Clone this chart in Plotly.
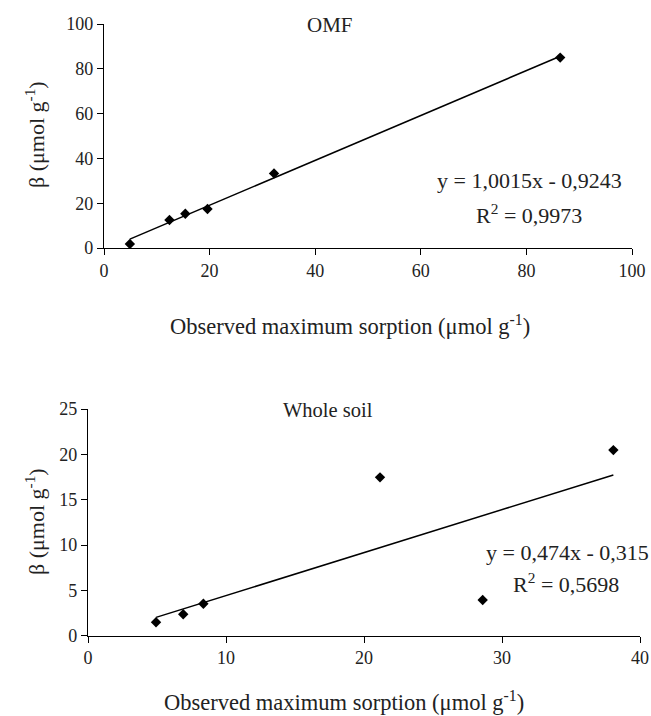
import plotly.graph_objects as go

# OMF data
omf_x = [4.9, 12.4, 15.4, 19.6, 32.2, 86.4]
omf_y = [1.8, 12.5, 15.3, 17.4, 33.3, 85.0]
omf_slope, omf_int = 1.0015, -0.9243

# Whole soil data
ws_x = [4.93, 6.9, 8.36, 21.16, 28.6, 38.07]
ws_y = [1.48, 2.36, 3.53, 17.46, 3.94, 20.47]
ws_slope, ws_int = 0.474, -0.315

W, H = 651, 716
FONT = "Liberation Serif, Times New Roman, serif"

fig = go.Figure()

fig.add_trace(go.Scatter(x=omf_x, y=omf_y, mode="markers",
                         marker=dict(symbol="diamond", size=8, color="black"),
                         xaxis="x", yaxis="y", showlegend=False))
lx = [min(omf_x), max(omf_x)]
fig.add_trace(go.Scatter(x=lx, y=[omf_slope * v + omf_int for v in lx], mode="lines",
                         line=dict(color="black", width=1.5),
                         xaxis="x", yaxis="y", showlegend=False))
fig.add_trace(go.Scatter(x=ws_x, y=ws_y, mode="markers",
                         marker=dict(symbol="diamond", size=8, color="black"),
                         xaxis="x2", yaxis="y2", showlegend=False))
lx2 = [min(ws_x), max(ws_x)]
fig.add_trace(go.Scatter(x=lx2, y=[ws_slope * v + ws_int for v in lx2], mode="lines",
                         line=dict(color="black", width=1.5),
                         xaxis="x2", yaxis="y2", showlegend=False))

def px(x):
    return x / W

def py(y):
    return 1 - y / H

axis_common = dict(showline=True, linecolor="black", linewidth=1.2, ticks="outside",
                   ticklen=6, tickwidth=1.2, tickcolor="black", showgrid=False,
                   zeroline=False, tickfont=dict(family=FONT, size=18, color="#222"))

fig.update_layout(
    width=W, height=H, margin=dict(l=0, r=0, t=0, b=0, autoexpand=False),
    plot_bgcolor="white", paper_bgcolor="white",
    xaxis=dict(domain=[px(104), px(632)], range=[0, 100], dtick=20, anchor="y", **axis_common),
    yaxis=dict(domain=[py(248), py(24)], range=[0, 100], dtick=20, anchor="x", **axis_common),
    xaxis2=dict(domain=[px(88), px(640)], range=[0, 40], dtick=10, anchor="y2", **axis_common),
    yaxis2=dict(domain=[py(635.7), py(409)], range=[0, 25], dtick=5, anchor="x2", **axis_common),
)

ann = []
def add_text(x, y, text, size=21, angle=0):
    ann.append(dict(x=px(x), y=py(y), xref="paper", yref="paper", text=text, showarrow=False,
                    textangle=angle, xanchor="center", yanchor="middle",
                    font=dict(family=FONT, size=size, color="#222")))

add_text(330, 25, "OMF", size=21)
add_text(529, 180, "y = 1,0015x - 0,9243", size=22)
add_text(529, 214, "R<sup>2</sup> = 0,9973", size=22)
add_text(35, 135, "β (μmol g<sup>-1</sup>)", size=22, angle=-90)
add_text(350, 325, "Observed maximum sorption (μmol g<sup>-1</sup>)", size=22.5)

add_text(328, 410, "Whole soil", size=20.5)
add_text(567, 552, "y = 0,474x - 0,315", size=22)
add_text(566, 583, "R<sup>2</sup> = 0,5698", size=22)
add_text(35, 522, "β (μmol g<sup>-1</sup>)", size=22, angle=-90)
add_text(344, 701, "Observed maximum sorption (μmol g<sup>-1</sup>)", size=22.5)

fig.update_layout(annotations=ann)
fig.write_html("out.html", config={"displayModeBar": False},
               post_script="document.body.style.margin='0';document.body.style.overflow='hidden';")
